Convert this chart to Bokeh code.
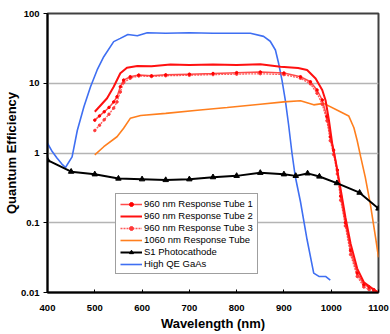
from bokeh.plotting import figure
from bokeh.models import FixedTicker, CustomJSTickFormatter, Legend, LegendItem, Range1d
from bokeh.embed import file_html
from bokeh.resources import INLINE

# ---- data ----
wl_tube1 = [500, 510, 520, 530, 540, 547, 554, 561, 575, 593, 620, 650, 700, 750, 800, 850, 900,
            935, 956, 970, 981, 991, 998, 1005, 1013, 1020, 1030, 1041, 1055, 1069, 1080, 1090, 1100]
qe_tube1 = [2.96, 3.4, 3.9, 4.5, 5.4, 6.4, 8.9, 11.1, 12.4, 13.1, 12.8, 13.2, 13.5, 13.8, 14.2, 14.5, 14.0,
            12.4, 10.5, 8.0, 5.75, 3.3, 1.7, 1.1, 0.57, 0.24, 0.1, 0.04, 0.019, 0.013, 0.012, 0.011, 0.01]

wl_tube2 = [500, 526, 540, 554, 568, 590, 620, 660, 700, 750, 800, 850, 893, 930, 949, 967, 981, 988,
            995, 1002, 1009, 1020, 1030, 1041, 1055, 1069, 1090, 1100]
qe_tube2 = [3.9, 6.1, 8.9, 13.9, 16.7, 17.7, 17.5, 18.5, 18.3, 18.5, 18.2, 18.7, 17.3, 16.5, 15.5, 11.7, 8.0, 5.7,
            3.0, 1.38, 0.79, 0.3, 0.12, 0.05, 0.022, 0.014, 0.011, 0.01]

wl_tube3 = [500, 510, 520, 530, 540, 547, 554, 561, 575, 593, 620, 650, 700, 750, 800, 850, 900,
            935, 956, 970, 981, 991, 998, 1005, 1013, 1020, 1030, 1041, 1055, 1069, 1080, 1090, 1100]
qe_tube3 = [2.1, 2.5, 3.0, 3.6, 4.4, 5.4, 7.5, 10.2, 11.8, 12.7, 12.5, 12.8, 13.0, 13.3, 13.5, 13.7, 13.3,
            11.8, 9.8, 7.2, 5.0, 2.9, 1.5, 0.95, 0.5, 0.21, 0.09, 0.035, 0.017, 0.012, 0.011, 0.0105, 0.01]

wl_1060 = [500, 519, 547, 561, 575, 597, 650, 717, 780, 850, 900, 935, 963, 984, 1013, 1037, 1048,
           1055, 1062, 1072, 1083, 1094, 1100]
qe_1060 = [0.94, 1.23, 1.71, 2.26, 3.14, 3.45, 3.7, 4.1, 4.5, 5.0, 5.4, 5.6, 4.9, 5.15, 4.1, 3.4, 2.3,
           1.5, 0.9, 0.45, 0.18, 0.06, 0.032]

wl_s1 = [400, 450, 500, 550, 600, 650, 700, 750, 800, 850, 900, 925, 950, 975, 1012, 1060, 1100]
qe_s1 = [0.79, 0.54, 0.495, 0.43, 0.42, 0.41, 0.42, 0.45, 0.47, 0.52, 0.495, 0.47, 0.51, 0.46, 0.37, 0.27, 0.16]

wl_gaas = [400, 410, 420, 430, 438, 452, 463, 477, 491, 505, 519, 540, 554, 570, 590, 611, 650, 700,
           750, 800, 829, 857, 871, 882, 889, 896, 903, 910, 917, 924, 935, 949, 963, 974, 988, 998]
qe_gaas = [1.38, 1.05, 0.85, 0.7, 0.62, 0.88, 2.1, 4.6, 8.9, 15.5, 24, 39.5, 44, 50, 48, 53, 52, 53,
           52, 52, 52, 47, 40, 30, 19, 11, 5.7, 2.5, 1.0, 0.46, 0.2, 0.057, 0.019, 0.017, 0.017, 0.015]

x_ticks = [400, 500, 600, 700, 800, 900, 1000, 1100]
y_ticks = [0.01, 0.1, 1, 10, 100]

FONT = "Liberation Sans"

p = figure(width=390, height=334, y_axis_type="log",
           x_range=Range1d(400, 1100), y_range=Range1d(0.01, 100),
           output_backend="svg", toolbar_location=None,
           min_border_left=47, min_border_right=12, min_border_top=13, min_border_bottom=42)

p.background_fill_color = "white"
p.border_fill_color = "white"
p.outline_line_color = "#404040"
p.outline_line_width = 2

# grid
p.xgrid.grid_line_color = None
p.ygrid.grid_line_color = "#b4b4b4"
p.ygrid.grid_line_width = 1.5
p.ygrid.ticker = FixedTicker(ticks=y_ticks)
p.ygrid.minor_grid_line_color = None

# axes
p.xaxis.ticker = FixedTicker(ticks=x_ticks)
p.yaxis.ticker = FixedTicker(ticks=y_ticks)
p.yaxis.formatter = CustomJSTickFormatter(code="""
const v = Math.round(Math.log10(tick));
return v >= 0 ? String(Math.pow(10, v)) : Math.pow(10, v).toFixed(-v);
""")
for ax in (p.xaxis, p.yaxis):
    ax.axis_line_color = "black"
    ax.axis_line_width = 2
    ax.major_tick_line_color = "black"
    ax.minor_tick_line_color = None
    ax.major_label_text_font = FONT
    ax.major_label_text_font_style = "bold"
    ax.major_label_text_font_size = "9.5px"
    ax.major_label_text_color = "black"
    ax.axis_label_text_font = FONT
    ax.axis_label_text_font_style = "bold"
    ax.axis_label_text_font_size = "13px"
    ax.axis_label_text_color = "black"

p.xaxis.major_tick_in = 3
p.xaxis.major_tick_out = 0
p.xaxis.major_label_standoff = 12
p.xaxis.axis_label = "Wavelength (nm)"
p.xaxis.axis_label_standoff = 2

p.yaxis.major_tick_in = 0
p.yaxis.major_tick_out = 4
p.yaxis.major_label_standoff = 4
p.yaxis.axis_label = "Quantum Efficiency"
p.yaxis.axis_label_standoff = -1

# ---- series ----
r_gaas = p.line(wl_gaas, qe_gaas, line_color="#3f6ff2", line_width=1.6)
r_1060 = p.line(wl_1060, qe_1060, line_color="#ff7f1e", line_width=1.6)

r_t3l = p.line(wl_tube3, qe_tube3, line_color="#ff5a5a", line_width=1.3, line_dash="2 1")
r_t3m = p.scatter(wl_tube3, qe_tube3, marker="circle", size=2.5, line_color="#ff3a3a", fill_color="#ff3a3a")
r_t1l = p.line(wl_tube1, qe_tube1, line_color="#ff2a2a", line_width=1.5, line_alpha=0.85)
r_t1m = p.scatter(wl_tube1, qe_tube1, marker="circle", size=2.5, line_color="#ff0000", fill_color="#ff0000")
r_t2 = p.line(wl_tube2, qe_tube2, line_color="#ff1010", line_width=2)

r_s1l = p.line(wl_s1, qe_s1, line_color="black", line_width=2)
r_s1m = p.scatter(wl_s1, qe_s1, marker="triangle", size=5.5, line_color="black", fill_color="black")

legend = Legend(items=[
    LegendItem(label="960 nm Response Tube 1", renderers=[r_t1l, r_t1m]),
    LegendItem(label="960 nm Response Tube 2", renderers=[r_t2]),
    LegendItem(label="960 nm Response Tube 3", renderers=[r_t3l, r_t3m]),
    LegendItem(label="1060 nm Response Tube", renderers=[r_1060]),
    LegendItem(label="S1 Photocathode", renderers=[r_s1l, r_s1m]),
    LegendItem(label="High QE GaAs", renderers=[r_gaas]),
], location=(68, 18))
legend.border_line_color = "#404040"
legend.border_line_width = 1
legend.background_fill_color = "white"
legend.background_fill_alpha = 1
legend.label_text_font = FONT
legend.label_text_font_size = "9.5px"
legend.label_text_color = "black"
legend.label_height = 10
legend.label_standoff = 2
legend.glyph_height = 10
legend.glyph_width = 22
legend.spacing = 1
legend.padding = 4
legend.margin = 0
p.add_layout(legend, "center")

open("out.html", "w").write(file_html(p, INLINE))
